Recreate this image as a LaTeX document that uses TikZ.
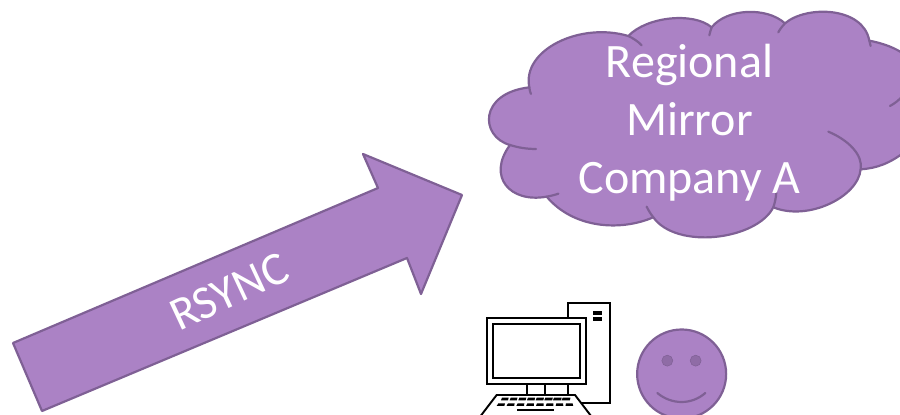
\documentclass[tikz,border=0pt]{standalone}
\usepackage{fontspec}
\setmainfont{Carlito}
\definecolor{pfill}{HTML}{AB82C5}
\definecolor{pline}{HTML}{7F6095}
\definecolor{peye}{HTML}{8F6CA6}
\tikzset{
  shapeline/.style={draw=pline,line width=2.2pt,line join=round},
  tick/.style={draw=pline,line width=2.2pt,line cap=round},
  label/.style={text=white,inner sep=0pt},
  pcline/.style={draw=black,line width=1.9pt,fill=white},
}
\begin{document}
\begin{tikzpicture}[x=1pt,y=-1pt]
\clip (0,0) rectangle (900,415);
% arrow
\draw[shapeline,fill=pfill] (13,343) -- (378,188) -- (363,154) -- (462,195) -- (421,294) -- (407,258) -- (42,411) -- cycle;
\node[label,rotate=25,font=\fontsize{47}{47}\selectfont] (rsync) at (229,292) {RSYNC};
% cloud
\begin{scope}[shift={(480,0)},x=0.3333pt,y=-0.3333pt]
\path[shapeline,fill=pfill]
 (148,262) .. controls (125,150) and (300,65) .. (445,108)
 .. controls (500,50) and (640,35) .. (695,82)
 .. controls (740,25) and (860,20) .. (915,70)
 .. controls (980,15) and (1150,20) .. (1168,122)
 .. controls (1210,130) and (1250,145) .. (1275,165)
 -- (1275,455) .. controls (1230,490) and (1190,505) .. (1142,508)
 .. controls (1135,590) and (985,665) .. (880,622)
 .. controls (830,720) and (590,750) .. (520,652)
 .. controls (420,695) and (280,685) .. (200,590)
 .. controls (90,610) and (20,530) .. (90,435)
 .. controls (0,410) and (-5,280) .. (148,262) -- cycle;
\draw[tick] (148,262) .. controls (149,270) and (150,276) .. (153,282);
\draw[tick] (445,108) .. controls (460,115) and (475,125) .. (485,136);
\draw[tick] (695,82) .. controls (692,90) and (690,98) .. (688,106);
\draw[tick] (915,70) .. controls (908,78) and (900,87) .. (895,97);
\draw[tick] (1168,122) .. controls (1170,127) and (1172,132) .. (1172,138);
\draw[tick] (1230,318) .. controls (1245,310) and (1258,300) .. (1270,285);
\draw[tick] (1045,395) .. controls (1105,420) and (1150,465) .. (1142,508);
\draw[tick] (880,622) .. controls (885,608) and (888,592) .. (889,578);
\draw[tick] (500,620) .. controls (506,632) and (512,642) .. (520,652);
\draw[tick] (200,590) .. controls (212,588) and (224,585) .. (235,581);
\draw[tick] (90,435) .. controls (115,443) and (140,447) .. (168,447);
\end{scope}
\node[label,font=\fontsize{48}{58}\selectfont,align=center] (cloudtext) at (689.5,123) {Regional\\Mirror\\Company A};
% computer
\begin{scope}[shift={(470,290)},x=0.3333pt,y=-0.3333pt]
\draw[pcline] (293,40) rectangle (420,338);
\fill (370,64) rectangle (396,74);
\fill (370,82) rectangle (396,92);
\draw[pcline] (172,282) rectangle (224,315);
\draw[pcline] (80,315) -- (315,315) -- (380,400) -- (15,400) -- cycle;
\draw[pcline] (50,83) rectangle (348,282);
\draw[pcline] (68,101) rectangle (330,264);
\foreach \i in {0,...,7}{
  \fill ({96+\i*26},323) -- ({116+\i*26.5},323) -- ({114+\i*26.5},331) -- ({93+\i*26},331) -- cycle;
  \fill ({85+\i*29},340) -- ({105+\i*29},340) -- ({103+\i*29.5},348) -- ({80+\i*29.5},348) -- cycle;
}
\fill (142,356) rectangle (252,364);
\end{scope}
% smiley
\begin{scope}[shift={(470,290)},x=0.3333pt,y=-0.3333pt]
\node[circle,minimum size=89pt,inner sep=0pt,shapeline,fill=pfill] (face) at (635,252) {};
\node[circle,minimum size=11pt,inner sep=0pt,fill=peye,draw=pline,line width=0.5pt] (eyea) at (592,212) {};
\node[circle,minimum size=11pt,inner sep=0pt,fill=peye,draw=pline,line width=0.5pt] (eyeb) at (677,212) {};
\draw[tick] (562,309) .. controls (605,345) and (665,345) .. (706,309);
\end{scope}
\end{tikzpicture}
\end{document}
